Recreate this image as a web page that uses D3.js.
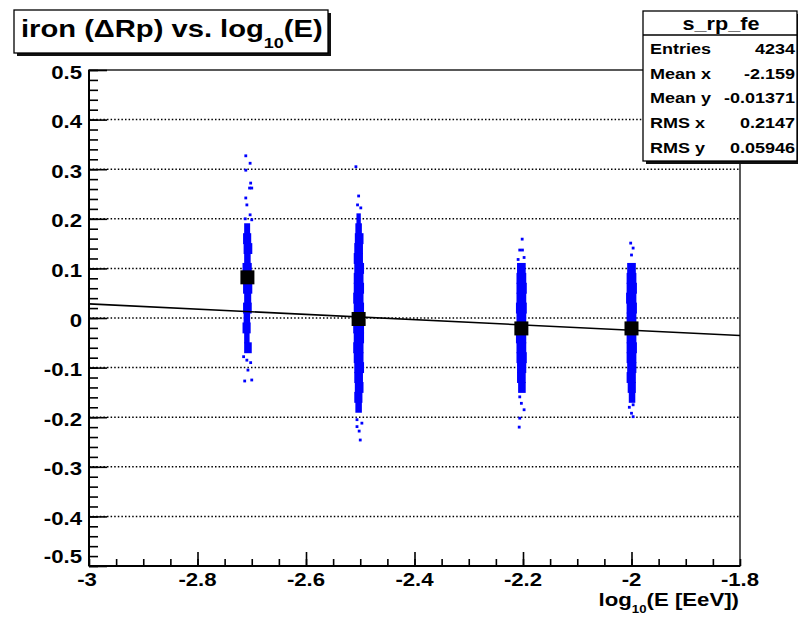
<!DOCTYPE html>
<html>
<head>
<meta charset="utf-8">
<script src="https://cdn.jsdelivr.net/npm/d3@7"></script>
<style>
body { margin: 0; background: #fff; }
text { font-family: "Liberation Sans", Arial, Helvetica, sans-serif; font-weight: bold; fill: #000; }
</style>
</head>
<body>
<div id="plot"></div>
<script>
// log10(E) of the four energy columns
var binX = [-2.708, -2.503, -2.203, -2.0];
// profile means drawn as black squares
var profileY = [0.082, -0.002, -0.021, -0.021];

// dense part of each column: [y centre, x offset left, x offset right]
var core1 = [[0.18,-0.006,0.005],[0.16,-0.008,0.007],[0.14,-0.007,0.009],[0.12,-0.006,0.006],
    [0.10,-0.009,0.008],[0.08,-0.007,0.007],[0.06,-0.008,0.009],[0.04,-0.006,0.007],
    [0.02,-0.008,0.008],[0.00,-0.007,0.005],[-0.02,-0.009,0.006],[-0.04,-0.006,0.004],
    [-0.06,-0.006,0.008]];
var core2 = [[0.20,-0.004,0.004],[0.18,-0.006,0.006],[0.16,-0.007,0.009],[0.14,-0.008,0.008],
    [0.12,-0.009,0.008],[0.10,-0.008,0.010],[0.08,-0.009,0.009],[0.06,-0.009,0.010],
    [0.04,-0.010,0.009],[0.02,-0.009,0.010],[0.00,-0.009,0.009],[-0.02,-0.010,0.010],
    [-0.04,-0.009,0.010],[-0.06,-0.010,0.009],[-0.08,-0.009,0.009],[-0.10,-0.008,0.010],
    [-0.12,-0.008,0.008],[-0.14,-0.007,0.009],[-0.16,-0.008,0.007],[-0.18,-0.006,0.006]];
var core3 = [[0.10,-0.008,0.008],[0.08,-0.009,0.009],[0.06,-0.009,0.010],[0.04,-0.009,0.009],
    [0.02,-0.010,0.010],[0.00,-0.009,0.009],[-0.02,-0.009,0.010],[-0.04,-0.010,0.009],
    [-0.06,-0.009,0.009],[-0.08,-0.009,0.010],[-0.10,-0.008,0.009],[-0.12,-0.008,0.008],
    [-0.14,-0.006,0.008]];
var core4 = [[0.10,-0.008,0.008],[0.08,-0.009,0.009],[0.06,-0.009,0.010],[0.04,-0.010,0.009],
    [0.02,-0.009,0.010],[0.00,-0.009,0.009],[-0.02,-0.010,0.010],[-0.04,-0.009,0.009],
    [-0.06,-0.009,0.010],[-0.08,-0.009,0.009],[-0.10,-0.008,0.009],[-0.12,-0.009,0.008],
    [-0.14,-0.007,0.008],[-0.16,-0.005,0.007]];

// isolated points of each column: [x offset, y]
var tail1 = [[-0.003,0.327],[0.005,0.312],[-0.003,0.298],[0.006,0.272],[0.008,0.262],[0.004,0.262],
    [-0.003,0.242],[-0.001,0.228],[0.005,0.208],[0.008,0.198],[-0.004,0.200],[-0.007,-0.078],
    [-0.001,-0.085],[0.006,-0.090],[0.001,-0.105],[-0.005,-0.127],[0.008,-0.125]];
var tail2 = [[-0.005,0.305],[0.000,0.246],[-0.002,0.228],[0.004,0.222],[-0.003,-0.205],
    [0.006,-0.212],[-0.003,-0.219],[0.001,-0.228],[0.003,-0.246]];
var tail3 = [[0.0015,0.159],[-0.003,0.137],[0.002,0.137],[0.005,0.122],[-0.006,0.118],
    [-0.003,-0.159],[0.000,-0.172],[0.005,-0.185],[-0.003,-0.202],[-0.004,-0.220]];
var tail4 = [[-0.0015,0.151],[0.003,0.141],[0.000,0.127],[0.003,-0.175],[-0.004,-0.180],
    [0.000,-0.192],[0.003,-0.199]];

// straight line fit p0 + p1*x
var fitPar = [-0.1306, -0.053];

var xTicks = [-3, -2.8, -2.6, -2.4, -2.2, -2, -1.8];
var xLabels = ["-3", "-2.8", "-2.6", "-2.4", "-2.2", "-2", "-1.8"];
var yTicks = [0.5, 0.4, 0.3, 0.2, 0.1, 0, -0.1, -0.2, -0.3, -0.4, -0.5];
var yLabels = ["0.5", "0.4", "0.3", "0.2", "0.1", "0", "-0.1", "-0.2", "-0.3", "-0.4", "-0.5"];

var statNames = ["Entries", "Mean x", "Mean y", "RMS x", "RMS y"];
var statValues = ["4234", "-2.159", "-0.01371", "0.2147", "0.05946"];

var margin = {top: 70, right: 58, bottom: 53, left: 89},
    width = 798 - margin.left - margin.right,
    height = 619 - margin.top - margin.bottom;
var stretch = 1.2; // text in the picture is drawn a bit wide

var root = d3.select("#plot")
    .append("svg")
    .attr("width", 798)
    .attr("height", 619);

var svg = root.append("g")
    .attr("transform", "translate(" + margin.left + "," + margin.top + ")");

var x = d3.scaleLinear().domain([-3, -1.8]).range([0, width]);
var y = d3.scaleLinear().domain([-0.5, 0.5]).range([height, 0]);

// helper for wide bold text
function label(sel, px, py, txt, anchor, size) {
    return sel.append("text")
        .attr("transform", "translate(" + px + "," + py + ") scale(" + stretch + ",1)")
        .attr("text-anchor", anchor)
        .style("font-size", size + "px")
        .text(txt);
}

// dotted grid on the y ticks
svg.append("g")
    .selectAll("line")
    .data(yTicks.filter(function(d) { return Math.abs(d) < 0.45; }))
    .enter()
    .append("line")
    .attr("x1", 0)
    .attr("x2", width)
    .attr("y1", function(d) { return y(d); })
    .attr("y2", function(d) { return y(d); })
    .attr("stroke", "#000")
    .attr("stroke-width", 1.5)
    .attr("stroke-dasharray", "1.5,2.1");

// scatter columns
var cores = [core1, core2, core3, core4];
var tails = [tail1, tail2, tail3, tail4];
var half = 0.011;
cores.forEach(function(core, i) {
    svg.append("g")
        .selectAll("rect")
        .data(core)
        .enter()
        .append("rect")
        .attr("x", function(d) { return x(binX[i] + d[1]); })
        .attr("width", function(d) { return x(binX[i] + d[2]) - x(binX[i] + d[1]); })
        .attr("y", function(d) { return y(d[0] + half); })
        .attr("height", function(d) { return y(d[0] - half) - y(d[0] + half); })
        .attr("fill", "#0000ff");
});
tails.forEach(function(tail, i) {
    svg.append("g")
        .selectAll("rect")
        .data(tail)
        .enter()
        .append("rect")
        .attr("x", function(d) { return x(binX[i] + d[0]) - 1.4; })
        .attr("y", function(d) { return y(d[1]) - 1.4; })
        .attr("width", 2.8)
        .attr("height", 2.8)
        .attr("fill", "#0000ff");
});

// fit line
svg.append("path")
    .datum(x.domain())
    .attr("fill", "none")
    .attr("stroke", "#000")
    .attr("stroke-width", 1.6)
    .attr("d", d3.line()
        .x(function(d) { return x(d); })
        .y(function(d) { return y(fitPar[0] + fitPar[1] * d); }));

// profile markers
svg.append("g")
    .selectAll("rect")
    .data(binX)
    .enter()
    .append("rect")
    .attr("x", function(d) { return x(d) - 7; })
    .attr("y", function(d, i) { return y(profileY[i]) - 7; })
    .attr("width", 14)
    .attr("height", 14)
    .attr("fill", "#000");

// frame
svg.append("rect")
    .attr("width", width)
    .attr("height", height)
    .attr("fill", "none")
    .attr("stroke", "#000")
    .attr("stroke-width", 1.3);

// y axis ticks (inside frame)
var yMinor = d3.range(-50, 51, 2).map(function(d) { return d / 100; });
svg.append("g")
    .call(d3.axisRight(y).tickValues(yMinor).tickSize(9).tickFormat(""))
    .call(function(g) { g.select(".domain").remove(); g.selectAll("line").attr("stroke-width", 1.6); });
svg.append("g")
    .call(d3.axisRight(y).tickValues(yTicks).tickSize(18).tickFormat(""))
    .call(function(g) { g.select(".domain").remove(); g.selectAll("line").attr("stroke-width", 1.6); });
svg.append("line")
    .attr("x1", 0).attr("x2", 0).attr("y1", 0).attr("y2", height)
    .attr("stroke", "#000").attr("stroke-width", 2);

// x axis ticks
var xMinor = d3.range(-60, -35, 1).map(function(d) { return d / 20; });
svg.append("g")
    .attr("transform", "translate(0," + height + ")")
    .call(d3.axisTop(x).tickValues(xMinor).tickSize(7).tickFormat(""))
    .call(function(g) { g.select(".domain").remove(); g.selectAll("line").attr("stroke-width", 1.6); });
svg.append("g")
    .attr("transform", "translate(0," + height + ")")
    .call(d3.axisTop(x).tickValues(xTicks.slice(1, -1)).tickSize(14).tickFormat(""))
    .call(function(g) { g.select(".domain").remove(); g.selectAll("line").attr("stroke-width", 1.6); });
svg.append("line")
    .attr("x1", 0).attr("x2", width).attr("y1", height).attr("y2", height)
    .attr("stroke", "#000").attr("stroke-width", 2);

// tick labels
yTicks.forEach(function(d, i) {
    var off = (d === -0.5) ? -3 : 8.5;
    label(svg, -7, y(d) + off, yLabels[i], "end", 18.5);
});
xTicks.forEach(function(d, i) {
    label(svg, x(d) - (i === 0 ? 2 : 0), height + 20, xLabels[i], "middle", 18.5);
});

// x axis title
var xt = label(svg, width - 1, height + 40, "", "end", 18.5);
xt.append("tspan").text("log");
xt.append("tspan").attr("dy", 7).style("font-size", "11px").text("10");
xt.append("tspan").attr("dy", -7).text("(E [EeV])");

// title box
root.append("rect")
    .attr("x", 17).attr("y", 13).attr("width", 314).attr("height", 43)
    .attr("fill", "#111");
root.append("rect")
    .attr("x", 14).attr("y", 10).attr("width", 314).attr("height", 43)
    .attr("fill", "#fff").attr("stroke", "#000").attr("stroke-width", 1.3);
var tt = label(root, 21, 37, "", "start", 24.3);
tt.append("tspan").text("iron (\u0394Rp) vs. log");
tt.append("tspan").attr("dy", 11).style("font-size", "15px").text("10");
tt.append("tspan").attr("dy", -11).text("(E)");

// stats box
root.append("rect")
    .attr("x", 646).attr("y", 14).attr("width", 154).attr("height", 150)
    .attr("fill", "#111");
root.append("rect")
    .attr("x", 643).attr("y", 11).attr("width", 154).attr("height", 150)
    .attr("fill", "#fff").attr("stroke", "#000").attr("stroke-width", 1.3);
root.append("line")
    .attr("x1", 643).attr("x2", 797).attr("y1", 35).attr("y2", 35)
    .attr("stroke", "#000").attr("stroke-width", 1.3);
label(root, 721, 30, "s_rp_fe", "middle", 18);
statNames.forEach(function(n, i) {
    label(root, 650, 54 + i * 24.7, n, "start", 15);
    label(root, 795, 54 + i * 24.7, statValues[i], "end", 15);
});
</script>
</body>
</html>
